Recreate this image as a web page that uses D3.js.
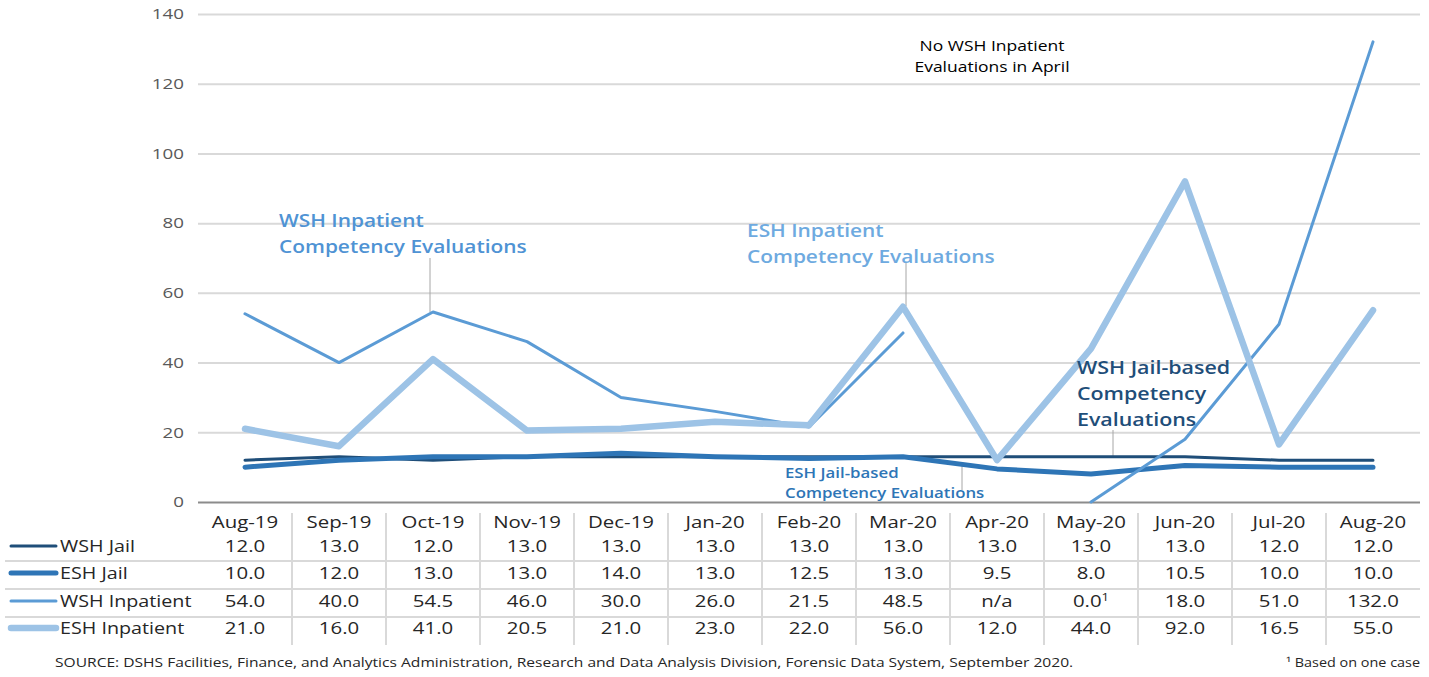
<!DOCTYPE html>
<html lang="en">
<head>
<meta charset="UTF-8">
<title>Competency Evaluations</title>
<script src="https://d3js.org/d3.v7.min.js"></script>
<style>
  body { margin: 0; background: #fff; }
  svg text { font-family: "Open Sans", "Noto Sans", sans-serif; }
</style>
</head>
<body>
<svg id="chart"></svg>
<script>
// Data
const months = ["Aug-19", "Sep-19", "Oct-19", "Nov-19", "Dec-19", "Jan-20", "Feb-20",
                "Mar-20", "Apr-20", "May-20", "Jun-20", "Jul-20", "Aug-20"];
const wshJail = [12, 13, 12, 13, 13, 13, 13, 13, 13, 13, 13, 12, 12];
const eshJail = [10, 12, 13, 13, 14, 13, 12.5, 13, 9.5, 8, 10.5, 10, 10];
const wshInpatient = [54, 40, 54.5, 46, 30, 26, 21.5, 48.5, null, 0, 18, 51, 132];
const eshInpatient = [21, 16, 41, 20.5, 21, 23, 22, 56, 12, 44, 92, 16.5, 55];
const yTicks = [0, 20, 40, 60, 80, 100, 120, 140];

const series = [
    { name: "WSH Jail", values: wshJail, color: "#1f4e79", width: 3 },
    { name: "ESH Jail", values: eshJail, color: "#2e75b6", width: 5 },
    { name: "WSH Inpatient", values: wshInpatient, color: "#5b9bd5", width: 3 },
    { name: "ESH Inpatient", values: eshInpatient, color: "#9dc3e6", width: 6.5 }
];

// the original text is set a bit wide, so stretch ours horizontally
const SX = 1.2;

const width = 1429, height = 677;
const svg = d3.select("#chart").attr("width", width).attr("height", height);

const x = d3.scaleBand().domain(months).range([198, 1420]);
const cx = m => x(m) + x.bandwidth() / 2;
const y = d3.scaleLinear().domain([0, 140]).range([502, 14]);

// place a text element at (px, py) with the horizontal stretch
function label(parent, px, py, sx) {
    return parent.append("text")
        .attr("transform", `translate(${px},${py}) scale(${sx || SX},1)`);
}

// gridlines + y labels
const yAxis = svg.append("g")
    .attr("transform", "translate(198,0)")
    .call(d3.axisLeft(y).tickValues(yTicks).tickSize(-1222).tickPadding(14));
yAxis.select(".domain").remove();
yAxis.selectAll(".tick line").attr("stroke", d => d === 0 ? "#8c8c8c" : "#d9d9d9").attr("stroke-width", 2);
yAxis.selectAll(".tick text")
    .attr("x", -14 / 1.25)
    .attr("transform", "scale(1.25,1)")
    .attr("fill", "#595959").style("font-size", "15px");

// annotation leader lines (drawn under the series)
const leaders = [
    [430, 258, 430, 312],
    [906, 262, 906, 306],
    [1113, 430, 1113, 457],
    [962, 463, 962, 490]
];
svg.append("g").selectAll("line").data(leaders).join("line")
    .attr("x1", d => d[0]).attr("y1", d => d[1])
    .attr("x2", d => d[2]).attr("y2", d => d[3])
    .attr("stroke", "#a6a6a6").attr("stroke-width", 1);

// series lines
const line = d3.line()
    .defined(d => d.v !== null)
    .x(d => cx(d.m))
    .y(d => y(d.v));

series.forEach(s => {
    svg.append("path")
        .datum(months.map((m, i) => ({ m, v: s.values[i] })))
        .attr("d", line)
        .attr("fill", "none")
        .attr("stroke", s.color)
        .attr("stroke-width", s.width)
        .attr("stroke-linejoin", "round")
        .attr("stroke-linecap", "round");
});

// annotations
function note(lines, x0, y0, dy, color, size, weight, sx, anchor) {
    const t = label(svg, x0, y0, sx)
        .attr("fill", color)
        .attr("text-anchor", anchor || "start")
        .style("font-size", size + "px")
        .style("font-weight", weight);
    lines.forEach((l, i) => t.append("tspan").attr("x", 0).attr("dy", i === 0 ? 0 : dy).text(l));
}
note(["WSH Inpatient", "Competency Evaluations"], 279, 227, 26, "#4f93d4", 18, 600, 1.16);
note(["ESH Inpatient", "Competency Evaluations"], 747, 237, 26, "#6eaae0", 18, 600, 1.16);
note(["WSH Jail-based", "Competency", "Evaluations"], 1077, 374, 26, "#1f4e79", 18, 600, 1.19);
note(["ESH Jail-based", "Competency Evaluations"], 785, 478, 20, "#2e75b6", 14, 600, 1.2);
note(["No WSH Inpatient", "Evaluations in April"], 992, 51, 21, "#000", 14, 400, 1.25, "middle");

// data table
const table = svg.append("g");
const rowY = [546, 573, 601, 628];
const headerY = 522;

months.forEach(m => {
    label(table, cx(m), headerY + 6)
        .attr("text-anchor", "middle")
        .attr("fill", "#262626")
        .style("font-size", "17px")
        .text(m);
});

// grid of the table
table.selectAll(".vl").data(months.slice(1)).join("line")
    .attr("x1", d => x(d)).attr("x2", d => x(d))
    .attr("y1", 513).attr("y2", 645)
    .attr("stroke", "#d9d9d9").attr("stroke-width", 2);
table.selectAll(".hl").data([561, 589, 617]).join("line")
    .attr("x1", 5).attr("x2", 1420)
    .attr("y1", d => d).attr("y2", d => d)
    .attr("stroke", "#d9d9d9").attr("stroke-width", 2);

series.forEach((s, r) => {
    const yy = rowY[r];
    table.append("line")
        .attr("x1", 11).attr("x2", 56)
        .attr("y1", yy).attr("y2", yy)
        .attr("stroke", s.color).attr("stroke-width", s.width)
        .attr("stroke-linecap", "round");
    label(table, 60, yy + 6, 1.16)
        .attr("fill", "#262626")
        .style("font-size", "17px")
        .text(s.name);
    s.values.forEach((v, i) => {
        const t = label(table, cx(months[i]), yy + 6)
            .attr("text-anchor", "middle")
            .attr("fill", "#262626")
            .style("font-size", "17px");
        if (v === null) { t.text("n/a"); return; }
        t.text(v.toFixed(1));
        if (s.name === "WSH Inpatient" && v === 0) {
            t.append("tspan").attr("dy", -6).style("font-size", "11px").text("1");
        }
    });
});

// source + footnote
label(svg, 55, 667)
    .attr("fill", "#262626")
    .style("font-size", "13px")
    .text("SOURCE: DSHS Facilities, Finance, and Analytics Administration, Research and Data Analysis Division, Forensic Data System, September 2020.");
label(svg, 1420, 667)
    .attr("text-anchor", "end")
    .attr("fill", "#262626")
    .style("font-size", "12px")
    .text("\u00b9 Based on one case");
</script>
</body>
</html>
